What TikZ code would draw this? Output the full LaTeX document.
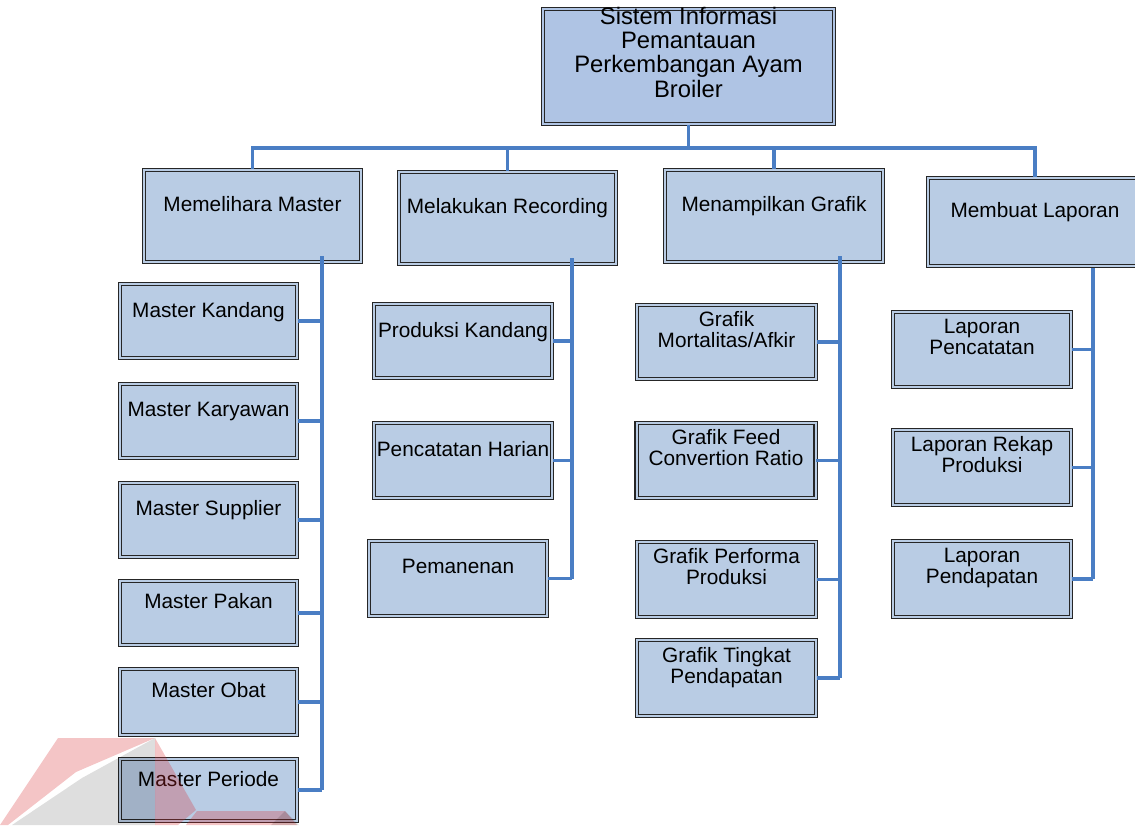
\documentclass[tikz,border=0pt]{standalone}
\usepackage{fontspec}
\setmainfont{Liberation Sans}
\definecolor{boxfill}{RGB}{185,204,228}
\definecolor{topfill}{RGB}{175,196,228}
\definecolor{connblue}{RGB}{74,126,196}
\definecolor{logored}{RGB}{215,45,50}
\begin{document}
\begin{tikzpicture}[x=1pt,y=-1pt,
  box/.style={rectangle, draw=black!85, line width=1.1pt, double=boxfill,
    double distance=2pt, fill=boxfill, inner sep=0pt},
  lbl/.style={font=\fontsize{20.8}{21}\selectfont, align=center, anchor=base, inner sep=0pt},
  toplbl/.style={font=\fontsize{23.8}{24.3}\selectfont, align=center, anchor=base, inner sep=0pt},
  conn/.style={draw=connblue, line width=3.2pt},
  logopart/.style={fill=logored, opacity=0.28},
  logogray/.style={fill=black, opacity=0.13}]
\useasboundingbox (0,0) rectangle (1135,825);
\clip (0,0) rectangle (1135,825);

% root
\node[box, double=topfill, fill=topfill, minimum width=291pt, minimum height=115pt] (top) at (688.5,66.5) {};
\node[toplbl] at ([yshift=-30.5pt]top.center) {Sistem Informasi\\Pemantauan\\Perkembangan Ayam\\Broiler};

% first level
\node[box, minimum width=217pt, minimum height=92pt] (mm) at (252.5,216) {};
\node[box, minimum width=217pt, minimum height=92pt] (mr) at (507.5,218) {};
\node[box, minimum width=218pt, minimum height=92pt] (mg) at (774,216) {};
\node[box, minimum width=214pt, minimum height=88pt] (ml) at (1035,222) {};
\node[lbl] at ([yshift=5pt]mm.center) {Memelihara Master};
\node[lbl] at ([yshift=5pt]mr.center) {Melakukan Recording};
\node[lbl] at ([yshift=5pt]mg.center) {Menampilkan Grafik};
\node[lbl] at ([yshift=5pt]ml.center) {Membuat Laporan};

% master data
\node[box, minimum width=177pt, minimum height=74pt] (mk)  at (208.5,321) {};
\node[box, minimum width=177pt, minimum height=74pt] (mka) at (208.5,421) {};
\node[box, minimum width=177pt, minimum height=74pt] (ms)  at (208.5,520) {};
\node[box, minimum width=177pt, minimum height=64pt] (mp)  at (208.5,613) {};
\node[box, minimum width=177pt, minimum height=66pt] (mo)  at (208.5,702) {};
\node[box, minimum width=177pt, minimum height=62pt] (mpe) at (208.5,790) {};
\node[lbl] at ([yshift=4pt]mk.center)  {Master Kandang};
\node[lbl] at ([yshift=5pt]mka.center) {Master Karyawan};
\node[lbl] at ([yshift=5pt]ms.center)  {Master Supplier};
\node[lbl] at ([yshift=5pt]mp.center)  {Master Pakan};
\node[lbl] at ([yshift=5pt]mo.center)  {Master Obat};
\node[lbl] at ([yshift=4pt]mpe.center) {Master Periode};

% recording
\node[box, minimum width=178pt, minimum height=74pt] (pk) at (463,341) {};
\node[box, minimum width=178pt, minimum height=75pt] (ph) at (463,460.5) {};
\node[box, minimum width=178pt, minimum height=75pt] (pm) at (458,578.5) {};
\node[lbl] at ([yshift=4pt]pk.center) {Produksi Kandang};
\node[lbl] at ([yshift=4pt]ph.center) {Pencatatan Harian};
\node[lbl] at ([yshift=5pt]pm.center) {Pemanenan};

% charts
\node[box, minimum width=179pt, minimum height=74pt] (gm) at (726.5,342) {};
\node[box, minimum width=179pt, minimum height=75pt] (gf) at (726,460.5) {};
\node[box, minimum width=179pt, minimum height=75pt] (gp) at (726.5,579.5) {};
\node[box, minimum width=179pt, minimum height=76pt] (gt) at (726.5,678) {};
\node[lbl] at ([yshift=-5pt]gm.center) {Grafik\\Mortalitas/Afkir};
\node[lbl] at ([yshift=-5pt]gf.center) {Grafik Feed\\Convertion Ratio};
\node[lbl] at ([yshift=-5pt]gp.center) {Grafik Performa\\Produksi};
\node[lbl] at ([yshift=-5pt]gt.center) {Grafik Tingkat\\Pendapatan};

% reports
\node[box, minimum width=178pt, minimum height=75pt] (lp)  at (982,349.5) {};
\node[box, minimum width=178pt, minimum height=75pt] (lr)  at (982,467.5) {};
\node[box, minimum width=178pt, minimum height=76pt] (lpd) at (982,579) {};
\node[lbl] at ([yshift=-4.5pt]lp.center)  {Laporan\\Pencatatan};
\node[lbl] at ([yshift=-4.5pt]lr.center)  {Laporan Rekap\\Produksi};
\node[lbl] at ([yshift=-4.5pt]lpd.center) {Laporan\\Pendapatan};

% tree connectors
\coordinate (bus) at (688.5,148);
\draw[conn] (top.south) -- (bus);
\draw[conn] (mm.north) |- (bus);
\draw[conn] (mr.north) |- (bus);
\draw[conn] (mg.north) |- (bus);
\draw[conn] (ml.north) |- (bus);

\coordinate (mmt) at (322,256);
\coordinate (mrt) at (572,258);
\coordinate (mgt) at (840,256);
\coordinate (mlt) at (1093,268);

\draw[conn] (mmt) -- (mmt |- mpe.east);
\foreach \c in {mk,mka,ms,mp,mo,mpe} \draw[conn] (\c.east) -- (\c.east -| mmt);
\draw[conn] (mrt) -- (mrt |- pm.east);
\foreach \c in {pk,ph,pm} \draw[conn] (\c.east) -- (\c.east -| mrt);
\draw[conn] (mgt) -- (mgt |- gt.east);
\foreach \c in {gm,gf,gp,gt} \draw[conn] (\c.east) -- (\c.east -| mgt);
\draw[conn] (mlt) -- (mlt |- lpd.east);
\foreach \c in {lp,lr,lpd} \draw[conn] (\c.east) -- (\c.east -| mlt);

% faint logo in the lower left corner
\fill[logopart] (58,738) -- (155,738) -- (76,772) -- (8,825) -- (0,825) -- cycle;
\fill[logogray] (155,738) -- (82,778) -- (12,825) -- (155,825) -- cycle;
\fill[logopart] (155,738) -- (196,810) -- (178,825) -- (155,825) -- cycle;
\fill[logopart] (186,825) -- (197,811) -- (285,811) -- (297,825) -- cycle;
\fill[logogray] (285,811) -- (271,825) -- (299,825) -- cycle;
\end{tikzpicture}
\end{document}
